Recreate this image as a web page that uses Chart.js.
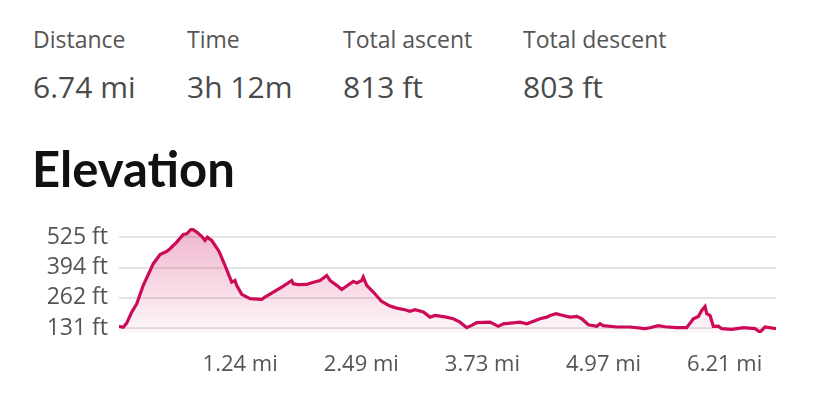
<!DOCTYPE html>
<html>
<head>
<meta charset="utf-8">
<script src="https://cdn.jsdelivr.net/npm/chart.js@4.4.1/dist/chart.umd.min.js"></script>
<style>
  html, body { margin: 0; padding: 0; background: #fff; }
  body { width: 828px; height: 407px; position: relative; overflow: hidden; font-family: 'Open Sans', sans-serif; }
  .stat { position: absolute; top: 23px; color: #555; }
  .stat .lbl { font-size: 23px; line-height: 32px; }
  .stat .val { font-size: 30px; line-height: 42px; margin-top: 11px; color: #4a4a4a; }
  h1 { position: absolute; left: 32px; top: 138px; margin: 0; font-family: Lato, sans-serif; font-weight: 700; font-size: 49px; line-height: 60px; color: #111; }
  .chart_box { position: absolute; left: 0; top: 210px; width: 828px; height: 180px; }
</style>
</head>
<body>
<div class="stat" style="left:33px"><div class="lbl">Distance</div><div class="val">6.74 mi</div></div>
<div class="stat" style="left:187px"><div class="lbl">Time</div><div class="val">3h 12m</div></div>
<div class="stat" style="left:343px"><div class="lbl">Total ascent</div><div class="val">813 ft</div></div>
<div class="stat" style="left:523px"><div class="lbl">Total descent</div><div class="val">803 ft</div></div>
<h1>Elevation</h1>
<div class="chart_box"><canvas id="elev"></canvas></div>
<script>
// distance along track (mi) and elevation (ft)
var distance = [0, 0.044, 0.079, 0.130, 0.182, 0.249, 0.352, 0.421, 0.489, 0.523,
  0.592, 0.660, 0.695, 0.746, 0.797, 0.848, 0.882, 0.906, 0.951, 1.019,
  1.036, 1.087, 1.156, 1.190, 1.207, 1.259, 1.344, 1.464, 1.498, 1.583,
  1.686, 1.772, 1.788, 1.839, 1.926, 1.977, 2.062, 2.131, 2.165, 2.233,
  2.285, 2.336, 2.404, 2.439, 2.490, 2.506, 2.541, 2.609, 2.695, 2.780,
  2.849, 2.934, 2.985, 3.037, 3.122, 3.191, 3.242, 3.344, 3.430, 3.498,
  3.567, 3.618, 3.670, 3.806, 3.891, 3.943, 4.114, 4.183, 4.319, 4.388,
  4.422, 4.483, 4.558, 4.627, 4.696, 4.747, 4.815, 4.901, 4.935, 4.968,
  5.106, 5.242, 5.396, 5.447, 5.533, 5.601, 5.721, 5.824, 5.892, 5.943,
  5.978, 6.012, 6.030, 6.064, 6.097, 6.148, 6.183, 6.286, 6.405, 6.525,
  6.576, 6.627, 6.740]
var elevation = [139, 135, 153, 200, 237, 317, 411, 451, 464, 476,
  505, 538, 541, 563, 548, 530, 512, 526, 512, 469,
  455, 404, 331, 338, 317, 278, 259, 256, 266, 288,
  314, 338, 324, 320, 321, 328, 338, 360, 338, 317,
  299, 314, 334, 327, 338, 353, 317, 288, 247, 227,
  218, 211, 204, 211, 201, 179, 186, 180, 172, 157,
  133, 143, 155, 157, 139, 150, 157, 150, 172, 179,
  186, 194, 186, 179, 182, 172, 146, 139, 150, 142,
  136, 136, 129, 133, 142, 137, 133, 133, 172, 182,
  208, 225, 194, 186, 139, 140, 129, 126, 133, 129,
  114, 136, 129]

// 2 km steps, shown in miles
var xTickValues = [1.2427, 2.4855, 3.7282, 4.9710, 6.2137]
var xTickLabels = ['1.24 mi', '2.49 mi', '3.73 mi', '4.97 mi', '6.21 mi']
// 40 m steps, shown in feet
var yTickValues = [131.23, 262.47, 393.70, 524.93]
var yTickLabels = ['131 ft', '262 ft', '394 ft', '525 ft']

var points = distance.map(function(d, i) { return {x: d, y: elevation[i]} })

var ctx = document.getElementById('elev')

new Chart(ctx, {
  type: 'line',
  data: {
    datasets: [{
      data: points,
      borderColor: '#cc0a57',
      borderWidth: 3.2,
      pointRadius: 0,
      tension: 0,
      fill: 'start',
      backgroundColor: function(c) {
        var area = c.chart.chartArea
        if (!area) return 'rgba(204,10,87,0.15)'
        var g = c.chart.ctx.createLinearGradient(0, area.top, 0, area.bottom)
        g.addColorStop(0, 'rgba(204,10,87,0.30)')
        g.addColorStop(1, 'rgba(204,10,87,0.03)')
        return g
      }
    }]
  },
  options: {
    responsive: true,
    maintainAspectRatio: false,
    animation: false,
    layout: {padding: {top: 18, right: 52, left: 0, bottom: 0}},
    plugins: {legend: {display: false}, tooltip: {enabled: false}},
    scales: {
      x: {
        type: 'linear',
        min: 0,
        max: 6.74,
        afterBuildTicks: function(axis) {
          axis.ticks = xTickValues.map(function(v) { return {value: v} })
        },
        afterFit: function(axis) {
          axis.height = 57
          axis.paddingLeft = 0
          axis.paddingRight = 0
        },
        grid: {display: false, drawTicks: false},
        border: {display: false},
        ticks: {
          padding: 19,
          color: '#555',
          maxRotation: 0,
          font: {family: "'Open Sans'", size: 22},
          callback: function(v, i) { return xTickLabels[i] }
        }
      },
      y: {
        min: 110,
        max: 566,
        afterBuildTicks: function(axis) {
          axis.ticks = yTickValues.map(function(v) { return {value: v} })
        },
        afterFit: function(axis) {
          axis.width = 119
          axis.paddingTop = 0
          axis.paddingBottom = 0
        },
        grid: {color: '#e4e4e4', lineWidth: 2, drawTicks: false},
        border: {display: false},
        ticks: {
          padding: 11,
          color: '#555',
          font: {family: "'Open Sans'", size: 23},
          callback: function(v, i) { return yTickLabels[i] }
        }
      }
    }
  }
})
</script>
</body>
</html>
